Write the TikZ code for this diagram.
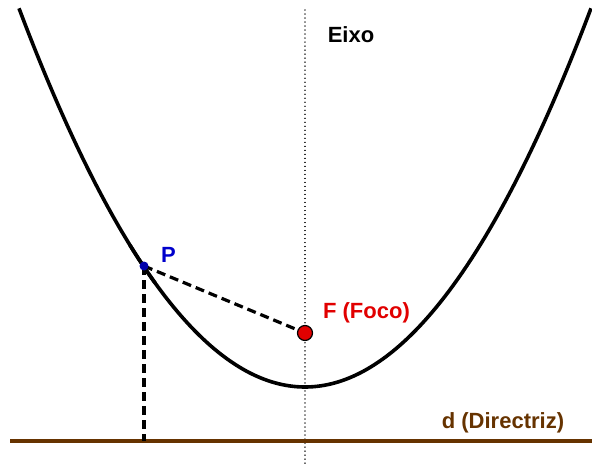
\documentclass[tikz,border=0pt]{standalone}
\usepackage{fontspec}
\setmainfont{Liberation Sans}
\definecolor{ptblue}{RGB}{0,0,204}
\definecolor{ptdot}{RGB}{0,0,170}
\definecolor{fred}{RGB}{225,0,0}
\definecolor{dbrown}{RGB}{102,51,0}
\tikzset{
  curve/.style={line width=3.6pt, black},
  dashline/.style={line width=3.2pt, black, dash pattern=on 9pt off 5pt},
  axisline/.style={line width=1.3pt, black, dash pattern=on 0.01pt off 4pt, line cap=round},
  dirline/.style={line width=3.6pt, dbrown},
  lbl/.style={font=\bfseries\fontsize{22}{22}\selectfont, inner sep=0pt, anchor=center}
}
\begin{document}
\begin{tikzpicture}[x=1pt, y=-1pt]
\useasboundingbox (0,0) rectangle (592,466);
% axis
\coordinate (axtop) at (305,10);
\coordinate (axbot) at (305,466);
\draw[axisline] (axtop) -- (axbot);
% directrix
\coordinate (dleft) at (10,441);
\coordinate (dright) at (592,441);
\draw[dirline] (dleft) -- (dright);
% parabola
\draw[curve] plot[domain=-286:286, samples=160, smooth] ({305+\x}, {387-(\x/14.6969)^2});
% points
\coordinate (Pc) at (144,266);
\coordinate (Fc) at (305,333);
\coordinate (foot) at (144,441);
\draw[dashline] (Pc) -- (Fc);
\draw[dashline] (Pc) -- (foot);
\draw[curve] plot[domain=-175:-150, samples=20, smooth] ({305+\x}, {387-(\x/14.6969)^2});
\node[circle, fill=fred, draw=black, line width=1.2pt, minimum size=15pt, inner sep=0pt] (F) at (Fc) {};
\node[circle, fill=ptdot, inner sep=0pt, minimum size=9pt] (P) at (Pc) {};
% labels
\node[lbl, text=ptblue] (Plbl) at (168.5,254.5) {P};
\node[lbl, text=fred] (Flbl) at (366.5,313) {F (Foco)};
\node[lbl, text=dbrown] (dlbl) at (503,423) {d (Directriz)};
\node[lbl, text=black] (eixo) at (351,34.5) {Eixo};
\end{tikzpicture}
\end{document}
